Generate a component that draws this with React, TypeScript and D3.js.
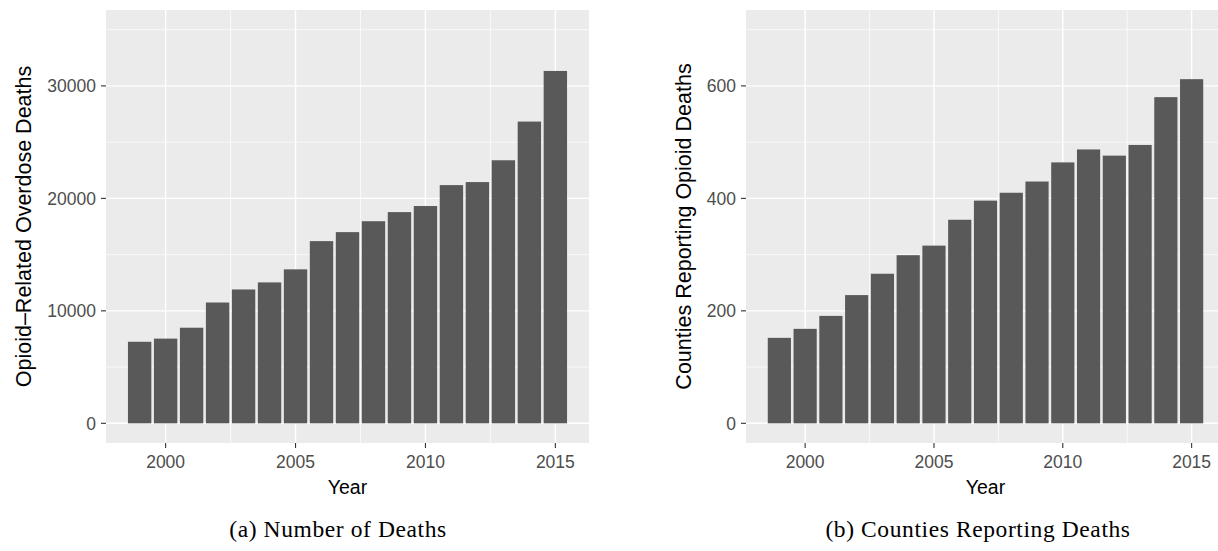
import React from 'react';
import * as d3 from 'd3';

const years = [1999, 2000, 2001, 2002, 2003, 2004, 2005, 2006, 2007, 2008, 2009, 2010, 2011, 2012, 2013, 2014, 2015];
const deaths = [7250, 7530, 8500, 10740, 11900, 12530, 13690, 16200, 17000, 17970, 18780, 19320, 21180, 21450, 23390, 26830, 31330];
const counties = [152, 168, 191, 228, 266, 299, 316, 362, 396, 410, 430, 464, 487, 476, 495, 580, 612];
const deathTicks = [0, 10000, 20000, 30000];
const deathMinor = [5000, 15000, 25000, 35000];
const countyTicks = [0, 200, 400, 600];
const countyMinor = [100, 300, 500, 700];
const yearTicks = [2000, 2005, 2010, 2015];
const yearMinor = [1997.5, 2002.5, 2007.5, 2012.5, 2017.5];

const SANS = '"Liberation Sans", Arial, Helvetica, sans-serif';
const SERIF = '"Liberation Serif", "DejaVu Serif", serif';

const Panel = ({ values, yMax, ticks, minor, yTitle, caption, left, right, titleX, capX }) => {
  const top = 10;
  const bottom = 443;
  const barW = 0.9;
  const span = years[years.length - 1] - years[0] + barW;
  const xPad = span * 0.05;

  const x = d3.scaleLinear()
    .domain([years[0] - barW / 2 - xPad, years[years.length - 1] + barW / 2 + xPad])
    .range([left, right]);

  const y = d3.scaleLinear()
    .domain([-yMax * 0.05, yMax * 1.05])
    .range([bottom, top]);

  const w = x(1 + barW) - x(1);
  const clipId = `clip-${left}`;

  return (
    <g>
      <defs>
        <clipPath id={clipId}>
          <rect x={left} y={top} width={right - left} height={bottom - top} />
        </clipPath>
      </defs>
      <rect x={left} y={top} width={right - left} height={bottom - top} fill='#EBEBEB' />
      <g clipPath={`url(#${clipId})`}>
        {minor.map(v => <line key={'hm' + v} x1={left} x2={right} y1={y(v)} y2={y(v)} stroke='#fff' strokeWidth={0.7} />)}
        {yearMinor.map(v => <line key={'vm' + v} x1={x(v)} x2={x(v)} y1={top} y2={bottom} stroke='#fff' strokeWidth={0.7} />)}
        {ticks.map(v => <line key={'h' + v} x1={left} x2={right} y1={y(v)} y2={y(v)} stroke='#fff' strokeWidth={1.4} />)}
        {yearTicks.map(v => <line key={'v' + v} x1={x(v)} x2={x(v)} y1={top} y2={bottom} stroke='#fff' strokeWidth={1.4} />)}
        {years.map((yr, i) => (
          <rect key={yr} x={x(yr) - w / 2} width={w} y={y(values[i])} height={y(0) - y(values[i])} fill='#595959' />
        ))}
      </g>

      {ticks.map(v => (
        <g key={'yt' + v}>
          <line x1={left - 5} x2={left} y1={y(v)} y2={y(v)} stroke='#333' strokeWidth={1.1} />
          <text x={left - 10} y={y(v)} dy='0.36em' textAnchor='end' fontSize={17.5} fill='#4D4D4D' fontFamily={SANS}>{v}</text>
        </g>
      ))}
      {yearTicks.map(v => (
        <g key={'xt' + v}>
          <line x1={x(v)} x2={x(v)} y1={bottom} y2={bottom + 5} stroke='#333' strokeWidth={1.1} />
          <text x={x(v)} y={467.5} textAnchor='middle' fontSize={17.5} fill='#4D4D4D' fontFamily={SANS}>{v}</text>
        </g>
      ))}

      <text x={(left + right) / 2} y={494} textAnchor='middle' fontSize={19.5} fill='#000' fontFamily={SANS}>Year</text>
      <text transform={`translate(${titleX},${(top + bottom) / 2}) rotate(-90)`} textAnchor='middle' fontSize={21.5} fill='#000' fontFamily={SANS}>{yTitle}</text>
      <text x={capX} y={537} textAnchor='middle' fontSize={23.5} letterSpacing={0.6} fill='#000' fontFamily={SERIF}>{caption}</text>
    </g>
  );
};

const App = () => (
  <svg width={1218} height={551} style={{ position: 'absolute', left: 0, top: 0, background: '#fff' }}>
    <Panel values={deaths} yMax={35000} ticks={deathTicks} minor={deathMinor}
      yTitle='Opioid–Related Overdose Deaths' caption='(a) Number of Deaths'
      left={106} right={589} titleX={30.5} capX={338} />
    <Panel values={counties} yMax={700} ticks={countyTicks} minor={countyMinor}
      yTitle='Counties Reporting Opioid Deaths' caption='(b) Counties Reporting Deaths'
      left={746} right={1225} titleX={690.5} capX={978} />
  </svg>
);

export default App;
